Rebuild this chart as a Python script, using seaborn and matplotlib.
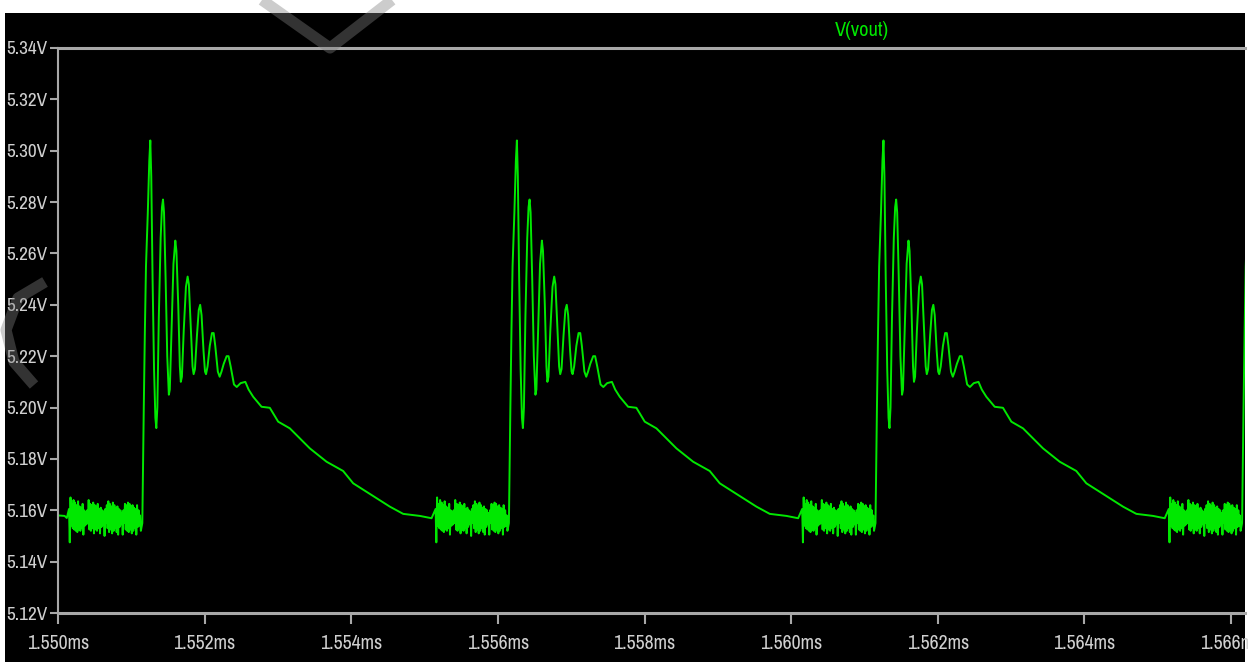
import numpy as np
import pandas as pd
import seaborn as sns
import matplotlib
matplotlib.use("Agg")
import matplotlib.pyplot as plt
from matplotlib import font_manager
from matplotlib.font_manager import FontProperties
from matplotlib.patches import Rectangle
from matplotlib.lines import Line2D

# ---- waveform readings (V(vout)) ----
# one switching cycle, times in microseconds relative to the rising edge
band_v = [
    5.1605, 5.1475, 5.1650, 5.1540, 5.1625, 5.1530, 5.1640, 5.1525, 5.1630, 5.1520, 5.1620, 5.1515,
    5.1635, 5.1525, 5.1615, 5.1520, 5.1610, 5.1530, 5.1625, 5.1505, 5.1600, 5.1540, 5.1595, 5.1545,
    5.1600, 5.1550, 5.1640, 5.1525, 5.1625, 5.1520, 5.1620, 5.1530, 5.1630, 5.1510, 5.1620, 5.1525,
    5.1615, 5.1520, 5.1625, 5.1530, 5.1605, 5.1510, 5.1610, 5.1535, 5.1600, 5.1545, 5.1595, 5.1500,
    5.1605, 5.1550, 5.1620, 5.1530, 5.1635, 5.1515, 5.1625, 5.1525, 5.1615, 5.1510, 5.1630, 5.1520,
    5.1620, 5.1530, 5.1610, 5.1515, 5.1615, 5.1505, 5.1605, 5.1535, 5.1600, 5.1545, 5.1590, 5.1505,
    5.1600, 5.1550, 5.1625, 5.1525, 5.1620, 5.1520, 5.1630, 5.1515, 5.1625, 5.1525, 5.1615, 5.1510,
    5.1620, 5.1520, 5.1610, 5.1530, 5.1605, 5.1505, 5.1620, 5.1535, 5.1600, 5.1540, 5.1580, 5.1520,
]
band_start_us = -1.0
band_end_us = -0.02

ring_us = [0.000, 0.020, 0.035, 0.050, 0.075, 0.095, 0.109, 0.122, 0.140, 0.160, 0.178, 0.191,
           0.205, 0.225, 0.250, 0.268, 0.282, 0.296, 0.318, 0.340, 0.362, 0.375, 0.400, 0.425,
           0.450, 0.465, 0.490, 0.512, 0.525, 0.540, 0.565, 0.595, 0.618, 0.635, 0.660, 0.685,
           0.700, 0.718, 0.745, 0.770, 0.789, 0.808, 0.835, 0.855, 0.869, 0.890, 0.920, 0.950,
           0.973, 0.995, 1.030, 1.055, 1.080, 1.110, 1.150, 1.176, 1.205, 1.250, 1.288, 1.340,
           1.405, 1.450]
ring_v = [5.155, 5.200, 5.230, 5.255, 5.276, 5.296, 5.304, 5.290, 5.250, 5.215, 5.196, 5.192,
          5.200, 5.235, 5.266, 5.278, 5.281, 5.276, 5.250, 5.220, 5.205, 5.207, 5.232, 5.256,
          5.265, 5.261, 5.240, 5.216, 5.210, 5.212, 5.230, 5.247, 5.251, 5.248, 5.232, 5.216,
          5.213, 5.215, 5.228, 5.238, 5.240, 5.236, 5.222, 5.214, 5.213, 5.216, 5.224, 5.229,
          5.229, 5.224, 5.214, 5.212, 5.214, 5.217, 5.220, 5.220, 5.216, 5.209, 5.208, 5.2095,
          5.210, 5.207]

decay_us = [1.512, 1.626, 1.739, 1.853, 2.012, 2.285, 2.513, 2.739, 2.876, 3.195, 3.377,
            3.558, 3.786, 3.945]
decay_v = [5.2042, 5.2003, 5.1999, 5.1945, 5.1919, 5.1841, 5.1789, 5.1753, 5.1705, 5.1647,
           5.1614, 5.1586, 5.1578, 5.1569]

# rising-edge instants of each cycle (ms)
edge_ms = [1.55115, 1.55615, 1.56115, 1.56615]

# tail of the previous cycle at the left edge
lead_ms = [1.55000, 1.55009, 1.55012]
lead_v = [5.1580, 5.1578, 5.1570]

x_ticks = [1.550, 1.552, 1.554, 1.556, 1.558, 1.560, 1.562, 1.564, 1.566]
y_ticks = [5.12, 5.14, 5.16, 5.18, 5.20, 5.22, 5.24, 5.26, 5.28, 5.30, 5.32, 5.34]

# ---- assemble the trace ----
band_us = np.linspace(band_start_us, band_end_us, len(band_v))
cycle_us = np.concatenate([band_us, ring_us, decay_us])
cycle_v = np.concatenate([band_v, ring_v, decay_v])

t_all = list(lead_ms)
v_all = list(lead_v)
for e in edge_ms:
    t_all.extend(e + cycle_us * 1e-3)
    v_all.extend(cycle_v)
df = pd.DataFrame({"t": t_all, "v": v_all})

# ---- style ----
sns.set_theme(style="dark")
plt.rcParams["font.family"] = ["Liberation Sans", "DejaVu Sans"]


def pick_narrow_font():
    """Prefer an upright narrow/condensed sans face when one is installed."""
    ranked = []
    for f in font_manager.fontManager.ttflist:
        nm = f.name
        st = str(f.stretch)
        if f.style != "normal" or "Mono" in nm or "Serif" in nm:
            continue
        narrow = ("Narrow" in nm or "Condensed" in nm or
                  st in ("condensed", "semi-condensed", "extra-condensed"))
        if not narrow:
            continue
        w = f.weight if isinstance(f.weight, int) else {"normal": 400, "regular": 400,
                                                        "book": 400, "medium": 500,
                                                        "bold": 700, "light": 300}.get(str(f.weight), 400)
        score = abs(w - 500)
        if "Narrow" in nm:
            score -= 1000
        elif "Roboto" in nm:
            score -= 500
        ranked.append((score, f.fname))
    if ranked:
        ranked.sort()
        return FontProperties(fname=ranked[0][1])
    return FontProperties(family=["Liberation Sans", "DejaVu Sans"])


base_prop = pick_narrow_font()

W, H = 1248, 662
fig = plt.figure(figsize=(W / 100, H / 100), dpi=100)
fig.patch.set_facecolor("white")
fig.patches.append(Rectangle((5 / W, 0), 1240 / W, 649 / H, transform=fig.transFigure,
                             facecolor="black", edgecolor="none", zorder=-10))
renderer = fig.canvas.get_renderer()


def sized(sample, target_px, max_pt):
    p = base_prop.copy()
    p.set_size(10)
    w, _, _ = renderer.get_text_width_height_descent(sample, p, ismath=False)
    p.set_size(min(max_pt, 10 * target_px / w))
    return p


ylab_prop = sized("5.34V", 41, 17)
xlab_prop = sized("1.550ms", 62, 17)
title_prop = sized("V(vout)", 54, 17)

ax = fig.add_axes([58 / W, (H - 613) / H, (1245 - 58) / W, (613 - 48) / H])
ax.set_facecolor("black")

sns.lineplot(data=df, x="t", y="v", sort=False, estimator=None, ax=ax,
             color="#00e800", linewidth=1.4)

ax.set_xlim(1.550, 1.56619)
ax.set_ylim(5.12, 5.34)
ax.set_xticks(x_ticks)
ax.set_xticklabels([f"{x:.3f}ms" for x in x_ticks])
ax.set_yticks(y_ticks)
ax.set_yticklabels([f"{y:.2f}V" for y in y_ticks])
ax.set_xlabel("")
ax.set_ylabel("")
ax.grid(False)

grey = "#a8a8a8"
for side in ("top", "bottom"):
    ax.spines[side].set_visible(True)
    ax.spines[side].set_color(grey)
    ax.spines[side].set_linewidth(2.2)
ax.spines["left"].set_visible(True)
ax.spines["left"].set_color(grey)
ax.spines["left"].set_linewidth(1.5)
ax.spines["right"].set_visible(False)

ax.tick_params(axis="y", direction="out", length=6, width=1.5, color=grey,
               labelcolor="#d0d0d0", pad=1.5, left=True)
ax.tick_params(axis="x", direction="out", length=8, width=1.5, color=grey,
               labelcolor="#d0d0d0", pad=7, bottom=True)
for lbl in ax.get_yticklabels():
    lbl.set_fontproperties(ylab_prop)
for lbl in ax.get_xticklabels():
    lbl.set_fontproperties(xlab_prop)

fig.text(862 / W, (H - 31) / H, "V(vout)", color="#00e800", fontproperties=title_prop,
         ha="center", va="center")


# faint grey watermark strokes
def stroke(pts, lw=8):
    xs = [p[0] / W for p in pts]
    ys = [(H - p[1]) / H for p in pts]
    fig.add_artist(Line2D(xs, ys, transform=fig.transFigure, color="#808080",
                          alpha=0.4, linewidth=lw, solid_capstyle="butt", zorder=20))


stroke([(262, 0), (330, 48), (392, 0)])
stroke([(45, 282), (18, 298), (6, 330), (14, 362), (34, 385)])

fig.savefig("out.png", dpi=100)
